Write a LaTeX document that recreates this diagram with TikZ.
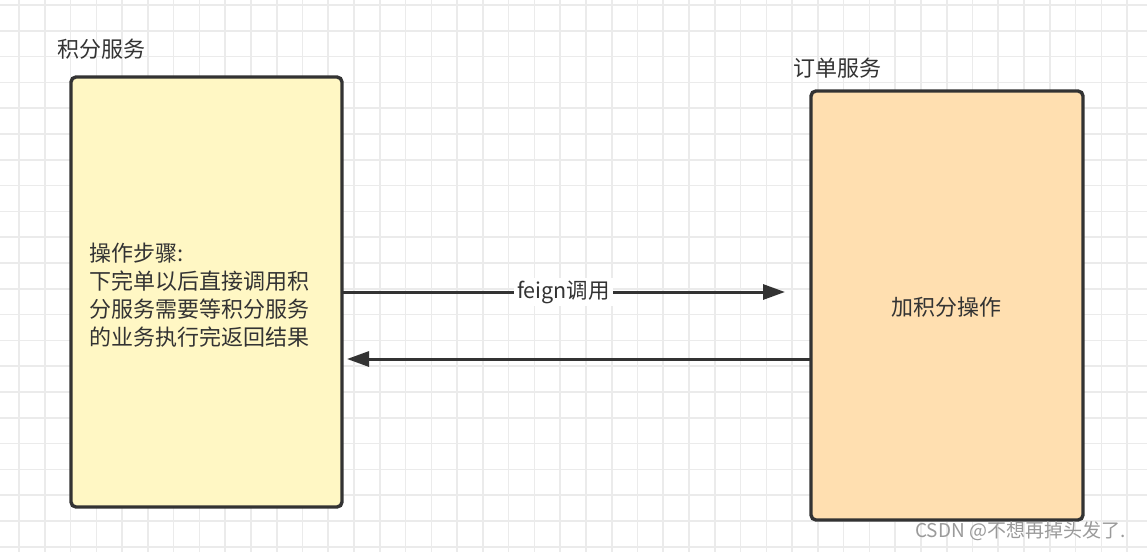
\documentclass[tikz,border=0pt]{standalone}
\usepackage{fontspec}
\setmainfont{Noto Sans CJK SC}
\usetikzlibrary{arrows.meta}
\definecolor{gridc}{HTML}{EBEBEB}
\definecolor{ink}{HTML}{333333}
\definecolor{yel}{HTML}{FFF7C4}
\definecolor{peach}{HTML}{FFDFB0}
\definecolor{wm}{HTML}{9A9A9A}
\tikzset{
  gridline/.style={draw=gridc, line width=1.6pt},
  svcbox/.style={draw=ink, line width=3.4pt, rounded corners=5pt, inner sep=0pt, outer sep=0pt},
  lbl/.style={text=ink, font=\fontsize{22}{28}\selectfont, inner sep=0pt},
  arr/.style={draw=ink, line width=3pt, -{Triangle[length=22pt,width=15pt]}},
}
\begin{document}
\begin{tikzpicture}[x=1pt,y=-1pt]
\useasboundingbox (0,0) rectangle (1147,552);
\fill[white] (0,0) rectangle (1147,552);
\foreach \i in {0,...,44} \draw[gridline] ({19+25.77*\i},0) -- ++(0,552);
\foreach \k in {0,...,21} \draw[gridline] (0,{5+25.8*\k}) -- ++(1147,0);

\node[svcbox, fill=yel, minimum width=271pt, minimum height=430pt] (jf) at (206.5,292) {};
\node[svcbox, fill=peach, minimum width=272pt, minimum height=429pt] (dd) at (947,305.5) {};

\node[lbl, anchor=west] (jft) at (57,49) {积分服务};
\node[lbl, anchor=west] (ddt) at (793,68) {订单服务};

\node[lbl, anchor=west, align=left] (steps) at (89,295) {操作步骤:\\下完单以后直接调用积\\分服务需要等积分服务\\的业务执行完返回结果};
\node[lbl] (op) at (946,307) {加积分操作};

\coordinate (t1) at (785,292);
\coordinate (b1) at (347,359);
\draw[arr] (jf.east) -- node[fill=white, text=ink, font=\fontsize{21.5}{25}\selectfont, inner sep=3pt] (fl) {feign调用} (t1);
\draw[arr] (dd.west |- b1) -- (b1);

\node[text=wm, anchor=west, font=\fontsize{19}{23}\selectfont, inner sep=0pt] (wmk) at (915,531) {CSDN @不想再掉头发了.};
\end{tikzpicture}
\end{document}
